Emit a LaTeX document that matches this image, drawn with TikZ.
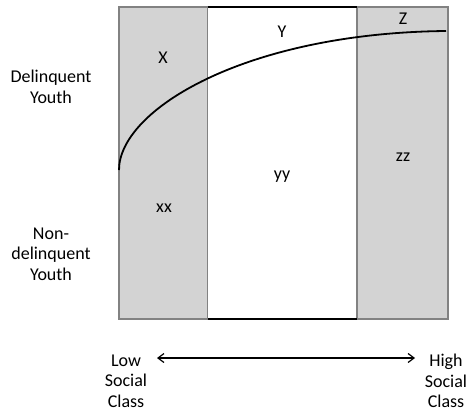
\documentclass[tikz,border=0pt]{standalone}
\usepackage{fontspec}
\setmainfont{Carlito}
\usepackage{xcolor}
\usetikzlibrary{positioning,arrows.meta}
\definecolor{bandgray}{RGB}{211,211,211}
\definecolor{edgegray}{RGB}{130,130,130}

\begin{document}
\begin{tikzpicture}[
            x=1pt, y=-1pt,
            band/.style={fill=bandgray, draw=edgegray, line width=1.6pt},
            lbl/.style={font=\fontsize{18}{20.5}\selectfont, inner sep=0pt, align=center}
        ]
            \useasboundingbox (0,0) rectangle (468,412);

            % three class bands
            \draw[band] (119,7) rectangle (208,319);
            \draw[fill=white, draw=none] (208,7) rectangle (357,319);
            \draw[band] (357,7) rectangle (448,319);
            \draw[line width=1.8pt] (208,7) -- (357,7);
            \draw[line width=1.8pt] (208,319) -- (357,319);

            % delinquency curve
            \coordinate (cstart) at (119,170);
            \coordinate (cend) at (446,31);
            \draw[line width=1.8pt] (cstart) .. controls (119,110) and (245,33) .. (cend);

            \node[lbl] (X) at (163,58) {X};
            \node[lbl] (Y) at (282,32) {Y};
            \node[lbl] (Z) at (403,19) {Z};
            \node[lbl] (xx) at (164,208) {xx};
            \node[lbl] (yy) at (282,177) {yy};
            \node[lbl] (zz) at (403,157) {zz};

            \node[lbl] (delinq) at (51,87) {Delinquent\\Youth};
            \node[lbl] (nondelinq) at (51,254) {Non-\\delinquent\\Youth};

            \node[lbl] (low) at (126,381) {Low\\Social\\Class};
            \node[lbl] (high) at (446,381) {High\\Social\\Class};
            \coordinate (la) at (157,358);
            \coordinate (ra) at (415,358);
            \draw[{Straight Barb[length=6pt,width=9pt]}-{Straight Barb[length=6pt,width=9pt]}, line width=1.2pt]
                (la) -- (ra);
        \end{tikzpicture}
\end{document}
